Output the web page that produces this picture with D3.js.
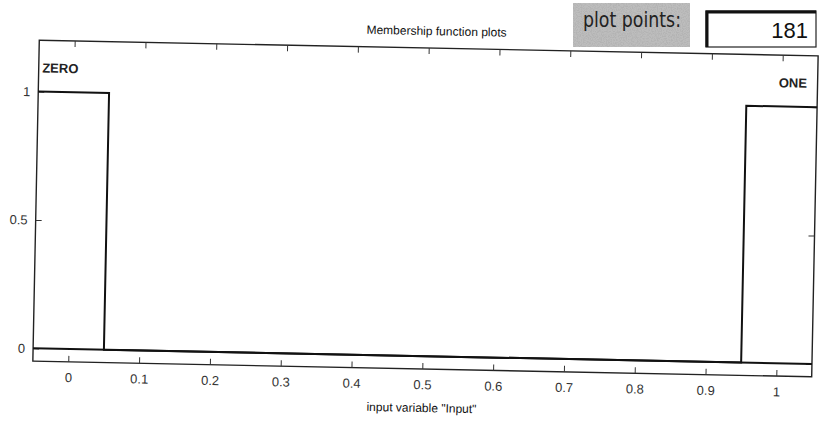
<!DOCTYPE html>
<html><head><meta charset="utf-8">
<script src="https://cdn.jsdelivr.net/npm/d3@7/dist/d3.min.js"></script>
<style>
html,body{margin:0;padding:0;background:#fff;}
svg{display:block;}
</style></head>
<body>
<script>
// ---- data ----
const title = "Membership function plots";
const xLabel = 'input variable "Input"';
const xTicks = [0, 0.1, 0.2, 0.3, 0.4, 0.5, 0.6, 0.7, 0.8, 0.9, 1];
const yTicks = [0, 0.5, 1];
const xDomain = [-0.05, 1.05];
const yDomain = [-0.05, 1.2];
const mfNames = ["ZERO", "ONE"];
const zeroX = [-0.05, 0.05, 0.05, 1.05];
const zeroY = [1, 1, 0, 0];
const oneX = [-0.05, 0.95, 0.95, 1.05];
const oneY = [0, 0, 1, 1];
const plotPointsLabel = "plot points:";
const plotPoints = 181;

const W = 821, H = 421;
const svg = d3.select("body").append("svg").attr("width", W).attr("height", H);

// noise texture for the grey label
const defs = svg.append("defs");
const f = defs.append("filter").attr("id","noise").attr("x",0).attr("y",0).attr("width","100%").attr("height","100%");
f.append("feTurbulence").attr("type","fractalNoise").attr("baseFrequency","0.8").attr("numOctaves",2).attr("seed",5).attr("result","t");
f.append("feColorMatrix").attr("type","matrix")
 .attr("values","0 0 0 0 0.45  0 0 0 0 0.45  0 0 0 0 0.45  3.5 0 0 0 -1.4").attr("in","t").attr("result","c");
f.append("feComposite").attr("in","c").attr("in2","SourceGraphic").attr("operator","in");

const L = 36, R = 815, T = 48, B = 369;
const x = d3.scaleLinear().domain(xDomain).range([L, R]);
const y = d3.scaleLinear().domain(yDomain).range([B, T]);

const g = svg.append("g").attr("transform", "rotate(1.15, 425, 208)");
const font = "Liberation Sans, Arial, sans-serif";

// title
g.append("text").attr("x", 433).attr("y", 35).attr("text-anchor","middle")
 .attr("font-family", font).attr("font-size",12).attr("fill","#111").text(title);

// box
g.append("rect").attr("x", L).attr("y", T).attr("width", R-L).attr("height", B-T)
 .attr("fill","none").attr("stroke","#222").attr("stroke-width",1.4);

// axes
const xAxisB = g.append("g").attr("transform",`translate(0,${B})`)
 .call(d3.axisBottom(x).tickValues(xTicks).tickSizeInner(-6).tickSizeOuter(0).tickPadding(11).tickFormat(d3.format("~g")));
const xAxisT = g.append("g").attr("transform",`translate(0,${T})`)
 .call(d3.axisTop(x).tickValues(xTicks).tickSizeInner(-6).tickSizeOuter(0).tickFormat(""));
const yAxisL = g.append("g").attr("transform",`translate(${L},0)`)
 .call(d3.axisLeft(y).tickValues(yTicks).tickSizeInner(-6).tickSizeOuter(0).tickPadding(8).tickFormat(d3.format("~g")));
const yAxisR = g.append("g").attr("transform",`translate(${R},0)`)
 .call(d3.axisRight(y).tickValues(yTicks).tickSizeInner(-6).tickSizeOuter(0).tickFormat(""));
[xAxisB, xAxisT, yAxisL, yAxisR].forEach(a => {
  a.select(".domain").remove();
  a.selectAll(".tick line").attr("stroke","#333").attr("stroke-width",1);
  a.selectAll("text").attr("font-family", font).attr("font-size", 13).attr("fill","#333");
});

// x label
g.append("text").attr("x", x(0.5)).attr("y", B + 43).attr("text-anchor","middle")
 .attr("font-family", font).attr("font-size",12).attr("fill","#111").text(xLabel);

// membership functions
const line = d3.line().x(d => x(d[0])).y(d => y(d[1]));
const series = [d3.zip(zeroX, zeroY), d3.zip(oneX, oneY)];
g.selectAll("path.mf").data(series).join("path").attr("class","mf")
 .attr("d", line).attr("fill","none").attr("stroke","#111").attr("stroke-width",2);

// mf names
g.append("text").attr("x", x(-0.045)).attr("y", y(1.075)).attr("font-family", font).attr("font-size",13)
 .attr("font-weight","bold").attr("fill","#222").text(mfNames[0]);
g.append("text").attr("x", x(1.035)).attr("y", y(1.075)).attr("text-anchor","end").attr("font-family", font).attr("font-size",13)
 .attr("font-weight","bold").attr("fill","#222").text(mfNames[1]);

// plot points controls (not rotated)
svg.append("rect").attr("x",573).attr("y",3).attr("width",117).attr("height",44).attr("fill","#bdbdbd");
svg.append("rect").attr("x",573).attr("y",3).attr("width",117).attr("height",44).attr("fill","#fff").attr("filter","url(#noise)");
svg.append("text").attr("x",632).attr("y",27).attr("text-anchor","middle")
 .attr("font-family","'DejaVu Sans', sans-serif").attr("font-size",21).attr("fill","#222").attr("textLength",98)
 .attr("lengthAdjust","spacingAndGlyphs").text(plotPointsLabel);

svg.append("rect").attr("x",706).attr("y",11).attr("width",110).attr("height",36).attr("fill","#fff")
 .attr("stroke","#222").attr("stroke-width",1.2);
svg.append("path").attr("d","M707,47 L707,12 L816,12").attr("fill","none").attr("stroke","#111").attr("stroke-width",3);
svg.append("text").attr("x",808).attr("y",38).attr("text-anchor","end")
 .attr("font-family", font).attr("font-size",22).attr("fill","#111").text(plotPoints);
</script>
</body></html>
